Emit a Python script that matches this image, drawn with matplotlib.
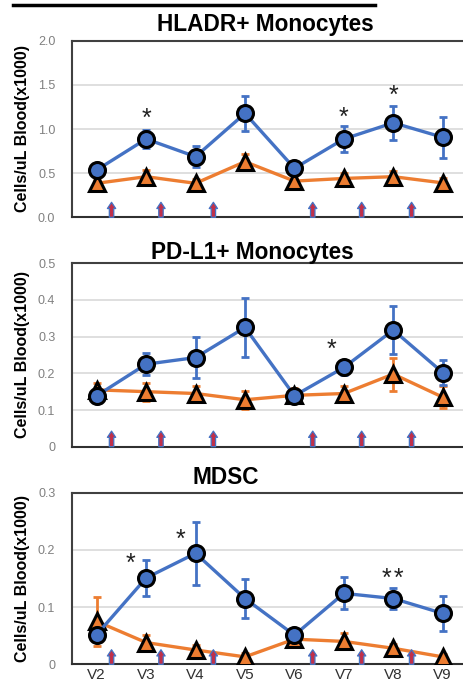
import matplotlib
matplotlib.use("Agg")
import matplotlib.pyplot as plt
from matplotlib.lines import Line2D
import numpy as np

plt.rcParams['font.family'] = ['Liberation Sans', 'DejaVu Sans']

visits = ["V2", "V3", "V4", "V5", "V6", "V7", "V8", "V9"]

# HLADR+ Monocytes
hla_blue = [0.536, 0.887, 0.687, 1.177, 0.555, 0.887, 1.07, 0.906]
hla_blue_err = [0.04, 0.10, 0.12, 0.20, 0.05, 0.15, 0.19, 0.23]
hla_orange = [0.385, 0.46, 0.385, 0.63, 0.41, 0.44, 0.46, 0.39]
hla_orange_err = [0.04, 0.08, 0.05, 0.09, 0.05, 0.06, 0.06, 0.05]
hla_stars = [(1, 1.11, "*"), (5, 1.13, "*"), (6, 1.38, "*")]

# PD-L1+ Monocytes
pd_blue = [0.139, 0.225, 0.243, 0.325, 0.139, 0.216, 0.318, 0.202]
pd_blue_err = [0.01, 0.03, 0.055, 0.08, 0.01, 0.02, 0.065, 0.034]
pd_orange = [0.155, 0.15, 0.145, 0.128, 0.14, 0.145, 0.198, 0.135]
pd_orange_err = [0.02, 0.025, 0.02, 0.025, 0.02, 0.02, 0.045, 0.03]
pd_stars = [(4.75, 0.265, "*")]

# MDSC
md_blue = [0.052, 0.151, 0.194, 0.115, 0.051, 0.124, 0.115, 0.089]
md_blue_err = [0.012, 0.031, 0.055, 0.034, 0.008, 0.028, 0.018, 0.031]
md_orange = [0.075, 0.038, 0.025, 0.013, 0.044, 0.040, 0.028, 0.013]
md_orange_err = [0.043, 0.014, 0.008, 0.006, 0.008, 0.014, 0.008, 0.005]
md_stars = [(0.68, 0.175, "*"), (1.7, 0.217, "*"), (6.0, 0.150, "*\u200a*")]

dose_x = [0.30, 1.30, 2.36, 4.37, 5.36, 6.37]

panels = [
    dict(title="HLADR+ Monocytes", blue=hla_blue, berr=hla_blue_err,
         orange=hla_orange, oerr=hla_orange_err, stars=hla_stars,
         ylim=2.0, yticks=[0.0, 0.5, 1.0, 1.5, 2.0],
         ylabels=["0.0", "0.5", "1.0", "1.5", "2.0"]),
    dict(title="PD-L1+ Monocytes", blue=pd_blue, berr=pd_blue_err,
         orange=pd_orange, oerr=pd_orange_err, stars=pd_stars,
         ylim=0.5, yticks=[0, 0.1, 0.2, 0.3, 0.4, 0.5],
         ylabels=["0", "0.1", "0.2", "0.3", "0.4", "0.5"]),
    dict(title="MDSC", blue=md_blue, berr=md_blue_err,
         orange=md_orange, oerr=md_orange_err, stars=md_stars,
         ylim=0.3, yticks=[0, 0.1, 0.2, 0.3],
         ylabels=["0", "0.1", "0.2", "0.3"]),
]

fig = plt.figure(figsize=(4.63, 6.85), dpi=100)

W, H = 463, 685
left_px = 72
ax_w_px = 8 * 49.43
geo = [(40.7, 217.3, 0.49, 24), (263.3, 446.7, 0.455, 253), (492.7, 664.3, 0.39, 478)]

BLUE = "#4472C4"
ORANGE = "#ED7D31"
GRID = "#d9d9d9"

fig.add_artist(Line2D([13 / W, 375 / W], [1 - 5 / H, 1 - 5 / H], color="black", lw=2.5))

x = np.arange(len(visits))
for p, (top, bot, tx, ty) in zip(panels, geo):
    ax = fig.add_axes([left_px / W, 1 - bot / H, ax_w_px / W, (bot - top) / H])
    ax.set_xlim(-0.5, 7.5)
    ax.set_ylim(0, p["ylim"])
    ax.set_yticks(p["yticks"])
    ax.set_yticklabels(p["ylabels"], fontsize=9, color="#808080")
    ax.tick_params(axis="y", length=0, pad=12)
    ax.tick_params(axis="x", length=0)
    for yv in p["yticks"][1:-1]:
        ax.axhline(yv, color=GRID, lw=1.2, zorder=0)
    for s in ["left", "top"]:
        ax.spines[s].set_color("#404040")
        ax.spines[s].set_linewidth(1.5)
    ax.spines["bottom"].set_color("#303030")
    ax.spines["bottom"].set_linewidth(1.5)
    ax.spines["right"].set_visible(False)

    ax.errorbar(x, p["orange"], yerr=p["oerr"], color=ORANGE, lw=2.4,
                elinewidth=2, capsize=3, capthick=2, zorder=2)
    ax.plot(x, p["orange"], linestyle="none", marker="^", markersize=11.5,
            markerfacecolor=ORANGE, markeredgecolor="black", markeredgewidth=2.2, zorder=3)
    ax.errorbar(x, p["blue"], yerr=p["berr"], color=BLUE, lw=2.4,
                elinewidth=2, capsize=3, capthick=2, zorder=4)
    ax.plot(x, p["blue"], linestyle="none", marker="o", markersize=11.5,
            markerfacecolor=BLUE, markeredgecolor="black", markeredgewidth=2.2, zorder=5)

    for sx, sy, st in p["stars"]:
        ax.text(sx, sy, st, ha="center", va="center", fontsize=18, color="#202020", zorder=6)

    for dx in dose_x:
        ax.annotate("", xy=(dx, 0.085), xycoords=("data", "axes fraction"),
                    xytext=(dx, 0.0), textcoords=("data", "axes fraction"),
                    arrowprops=dict(arrowstyle="simple,head_length=0.45,head_width=0.6,tail_width=0.32",
                                    fc="#C0304A", ec="#4472C4", lw=0.9, shrinkA=0, shrinkB=0),
                    zorder=6)

    ax.set_ylabel("Cells/uL Blood(x1000)", fontsize=11.5, fontweight="bold")
    ax.yaxis.set_label_coords(-42 / ax_w_px, 0.5)
    fig.text((left_px + tx * ax_w_px) / W, 1 - ty / H, p["title"], ha="center", va="center",
             fontsize=16.3, fontweight="bold")

    if p is panels[-1]:
        ax.set_xticks(x)
        ax.set_xticklabels(visits, fontsize=11, color="#303030")
        ax.tick_params(axis="x", pad=3)
    else:
        ax.set_xticks([])

fig.savefig("out.png", dpi=100)
